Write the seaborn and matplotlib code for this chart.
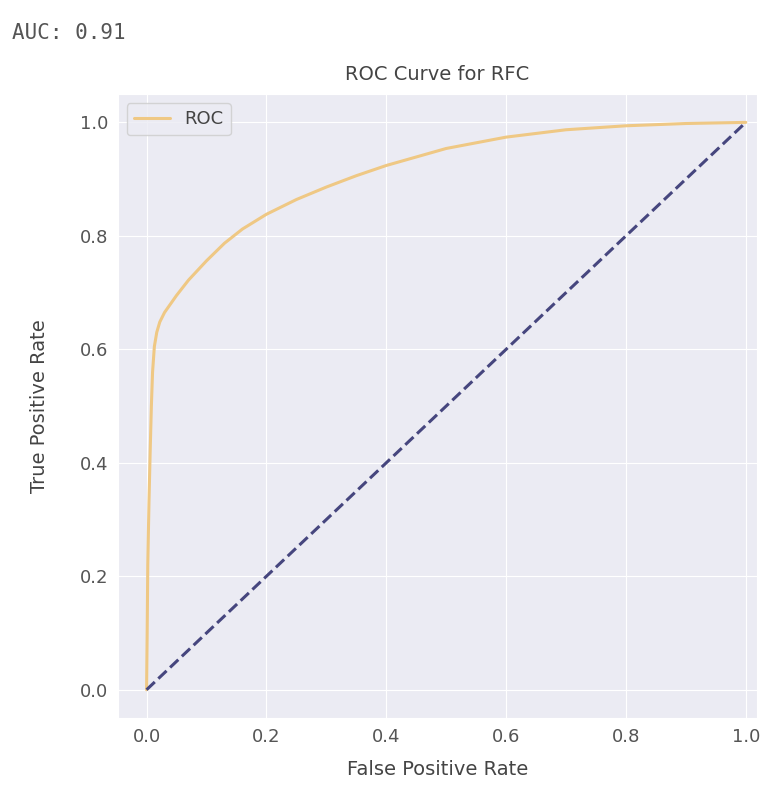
import matplotlib
matplotlib.use("Agg")
import matplotlib.pyplot as plt
import seaborn as sns
import pandas as pd

# ROC points
fpr = [0.0, 0.001, 0.002, 0.004, 0.006, 0.008, 0.010, 0.013, 0.017, 0.022, 0.03, 0.04,
       0.05, 0.07, 0.1, 0.13, 0.16, 0.2, 0.25, 0.3, 0.35, 0.4, 0.5, 0.6, 0.7, 0.8, 0.9, 1.0]
tpr = [0.0, 0.10, 0.22, 0.33, 0.42, 0.50, 0.56, 0.605, 0.63, 0.648, 0.665, 0.68,
       0.695, 0.722, 0.756, 0.787, 0.812, 0.838, 0.864, 0.886, 0.906, 0.924, 0.954, 0.974, 0.987, 0.994, 0.998, 1.0]
diag = [0.0, 1.0]
auc_text = "AUC: 0.91"

sns.set_style("darkgrid", {"axes.facecolor": "#ebebf3"})
plt.rcParams['font.family'] = ['DejaVu Sans']

fig = plt.figure(figsize=(7.65, 7.9), dpi=100)
ax = fig.add_axes([0.154, 0.091, 0.835, 0.790])

df = pd.DataFrame({'fpr': fpr, 'tpr': tpr})
sns.lineplot(data=df, x='fpr', y='tpr', color='#efc884', linewidth=2.2, label='ROC', ax=ax,
             estimator=None, sort=False)
ax.plot(diag, diag, color='#46467e', linestyle='--', linewidth=2.2)

ax.set_xlim(-0.048, 1.018)
ax.set_ylim(-0.05, 1.05)
ax.set_xticks([0.0, 0.2, 0.4, 0.6, 0.8, 1.0])
ax.set_yticks([0.0, 0.2, 0.4, 0.6, 0.8, 1.0])
ax.tick_params(labelsize=13, colors='#555555')
ax.set_xlabel('False Positive Rate', fontsize=14, color='#444444', labelpad=10)
ax.set_ylabel('True Positive Rate', fontsize=14, color='#444444', labelpad=22)
ax.set_title('ROC Curve for RFC', fontsize=14, color='#444444', pad=10)
ax.legend(loc='upper left', fontsize=13, labelcolor='#444444')

fig.text(12 / 765, 1 - 33 / 790, auc_text, family='DejaVu Sans Mono', fontsize=15,
         color='#555555', va='center', ha='left')

fig.savefig('out.png', dpi=100)
